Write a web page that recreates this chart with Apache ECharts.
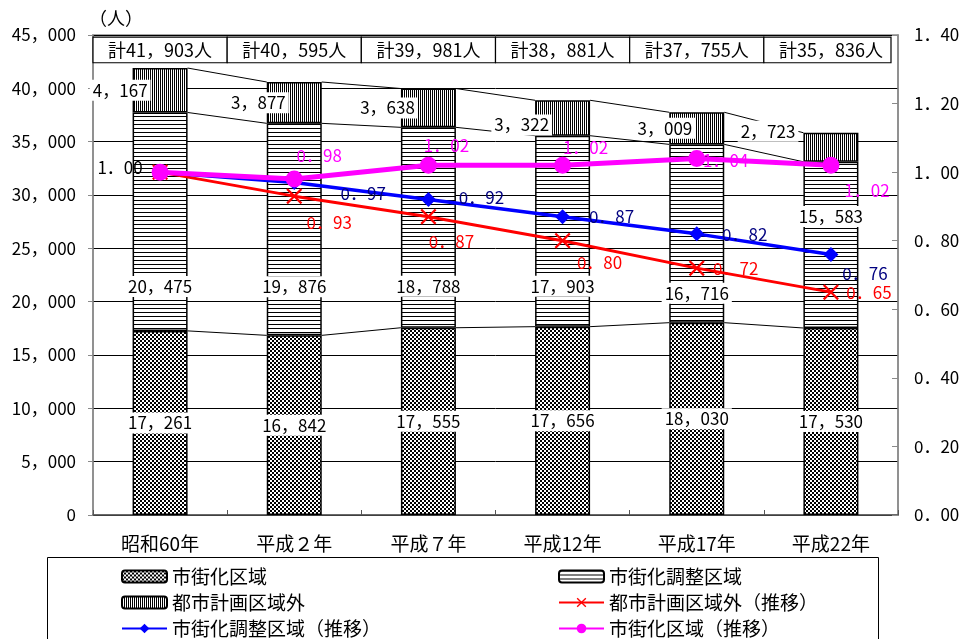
<!DOCTYPE html>
<html>
<head>
<meta charset="utf-8">
<script src="https://cdn.jsdelivr.net/npm/echarts@6/dist/echarts.min.js"></script>
<style>
  html, body { margin: 0; padding: 0; background: #fff; }
  #chart { width: 966px; height: 639px; }
</style>
</head>
<body>
<div id="chart"></div>
<script>
// Population by planning zone (stacked bars, left axis) and index vs. 昭和60年 (lines, right axis)
const categories = ['昭和60年', '平成２年', '平成７年', '平成12年', '平成17年', '平成22年'];
const urbanArea = [17261, 16842, 17555, 17656, 18030, 17530];      // 市街化区域
const adjustArea = [20475, 19876, 18788, 17903, 16716, 15583];     // 市街化調整区域
const outsideArea = [4167, 3877, 3638, 3322, 3009, 2723];          // 都市計画区域外
const outsideTrend = [1.00, 0.93, 0.87, 0.80, 0.72, 0.65];         // 都市計画区域外（推移）
const adjustTrend = [1.00, 0.97, 0.92, 0.87, 0.82, 0.76];          // 市街化調整区域（推移）
const urbanTrend = [1.00, 0.98, 1.02, 1.02, 1.04, 1.02];           // 市街化区域（推移）

const FONT = '"Noto Sans CJK JP", "Noto Sans", sans-serif';
const fmtInt = n => n.toLocaleString('en-US').replace(/,/g, '，');
const fmtDec = v => v.toFixed(2).replace('.', '．');

const totals = categories.map((_, i) => urbanArea[i] + adjustArea[i] + outsideArea[i]);

// Hatch fills for the bar segments
function makePattern(w, h, draw) {
  const c = document.createElement('canvas');
  c.width = w; c.height = h;
  const ctx = c.getContext('2d');
  ctx.fillStyle = '#fff';
  ctx.fillRect(0, 0, w, h);
  ctx.fillStyle = '#000';
  draw(ctx);
  return { image: c, repeat: 'repeat' };
}
const checkerFill = makePattern(4, 4, ctx => { ctx.fillRect(0, 0, 2, 2); ctx.fillRect(2, 2, 2, 2); });
const hStripeFill = makePattern(4, 4, ctx => { ctx.fillRect(0, 0, 4, 1); });
const vStripeFill = makePattern(2, 2, ctx => { ctx.fillRect(0, 0, 1, 2); });

// Label nudges (pixels) for the bar and trend labels
const adjustLabelDy = [0, -4, 3, 4, 15, -67];
const outsideLabelShift = [[0, 0], [4, 0], [-1, 0], [-1, 7], [8, 0], [-23, -16]];
const urbanTrendOffsets = [[-40, -5], [25, -23], [18, -20], [23, -18], [29, 2], [36, 25]];
const adjustTrendOffsets = [null, [69, 11], [53, -2], [49, 0], [48, 1], [34, 19]];
const outsideTrendOffsets = [null, [35, 26], [23, 25], [37, 22], [39, 0], [38, 0]];

const BAR_W = 55;

function trendData(values, offsets, color, firstColor) {
  return values.map((v, i) => {
    const off = offsets[i];
    return {
      value: v,
      label: off ? {
        show: true, position: 'inside', offset: off,
        color: i === 0 && firstColor ? firstColor : color
      } : { show: false }
    };
  });
}

const chart = echarts.init(document.getElementById('chart'), null, { renderer: 'canvas' });

const legendCommon = {
  orient: 'vertical', top: 562, height: 120, itemWidth: 45, itemHeight: 12, itemGap: 7,
  textStyle: { fontSize: 19, color: '#000', fontFamily: FONT }
};

const option = {
  animation: false,
  backgroundColor: '#fff',
  textStyle: { fontFamily: FONT },
  grid: {
    left: 93, right: 68, top: 35, bottom: 124,
    show: true, borderColor: '#8a8a8a', borderWidth: 1.5, backgroundColor: 'transparent'
  },
  legend: [
    Object.assign({ left: 116, data: ['市街化区域', '都市計画区域外', '市街化調整区域（推移）'] }, legendCommon),
    Object.assign({ left: 553, data: ['市街化調整区域', '都市計画区域外（推移）', '市街化区域（推移）'] }, legendCommon)
  ],
  graphic: [
    {
      type: 'rect', left: 47, top: 557, z: -1, silent: true,
      shape: { width: 831, height: 100 },
      style: { fill: '#fff', stroke: '#000', lineWidth: 1 }
    }
  ],
  xAxis: {
    type: 'category',
    data: categories,
    axisLine: { lineStyle: { color: '#555', width: 1.5 } },
    axisTick: { show: true, inside: true, length: 5, lineStyle: { color: '#555' } },
    axisLabel: { color: '#000', fontSize: 19, margin: 19, fontFamily: FONT }
  },
  yAxis: [
    {
      type: 'value', min: 0, max: 45000, interval: 5000,
      name: '（人）',
      nameLocation: 'end', nameGap: 8,
      nameTextStyle: { color: '#000', fontSize: 18, align: 'left', padding: [0, 0, 0, -4], fontFamily: FONT },
      axisLine: { show: true, lineStyle: { color: '#8a8a8a', width: 1.5 } },
      axisTick: { show: true, length: 5, lineStyle: { color: '#8a8a8a' } },
      axisLabel: { color: '#000', fontSize: 17, margin: 17, formatter: v => fmtInt(v), fontFamily: FONT },
      splitLine: { show: true, lineStyle: { color: '#000', width: 1 } }
    },
    {
      type: 'value', min: 0, max: 1.4, interval: 0.2,
      axisLine: { show: true, lineStyle: { color: '#8a8a8a', width: 1.5 } },
      axisTick: { show: true, inside: true, length: 6, lineStyle: { color: '#8a8a8a' } },
      axisLabel: { color: '#000', fontSize: 17, margin: 16, formatter: v => fmtDec(v), fontFamily: FONT },
      splitLine: { show: false }
    }
  ],
  series: [
    // Thin connectors between the segment tops of neighbouring bars
    {
      type: 'custom',
      name: 'connectors',
      z: 1,
      silent: true,
      data: categories.slice(0, -1).map((_, i) => {
        const a1 = urbanArea[i], a2 = a1 + adjustArea[i], a3 = a2 + outsideArea[i];
        const b1 = urbanArea[i + 1], b2 = b1 + adjustArea[i + 1], b3 = b2 + outsideArea[i + 1];
        return [i, a1, a2, a3, b1, b2, b3];
      }),
      renderItem: (params, api) => {
        const i = api.value(0);
        const children = [];
        for (let k = 1; k <= 3; k++) {
          const p = api.coord([i, api.value(k)]);
          const q = api.coord([i + 1, api.value(k + 3)]);
          children.push({
            type: 'line',
            shape: { x1: p[0] + BAR_W / 2, y1: p[1], x2: q[0] - BAR_W / 2, y2: q[1] },
            style: { stroke: '#000', lineWidth: 1 }
          });
        }
        return { type: 'group', children };
      }
    },
    {
      type: 'bar', name: '市街化区域', stack: 'pop', barWidth: BAR_W, z: 3,
      data: urbanArea,
      itemStyle: { color: checkerFill, borderColor: '#000', borderWidth: 1.5 },
      label: {
        show: true, position: 'inside', formatter: p => fmtInt(p.value),
        color: '#000', fontSize: 17, backgroundColor: '#fff', padding: [2, 3], fontFamily: FONT
      }
    },
    {
      type: 'bar', name: '市街化調整区域', stack: 'pop', barWidth: BAR_W, z: 3,
      data: adjustArea.map((v, i) => ({ value: v, label: { offset: [0, adjustLabelDy[i]] } })),
      itemStyle: { color: hStripeFill, borderColor: '#000', borderWidth: 1.5 },
      label: {
        show: true, position: 'insideBottom', distance: 34, formatter: p => fmtInt(p.value),
        color: '#000', fontSize: 17, backgroundColor: '#fff', padding: [2, 3], fontFamily: FONT
      }
    },
    {
      type: 'bar', name: '都市計画区域外', stack: 'pop', barWidth: BAR_W, z: 3,
      data: outsideArea.map((v, i) => ({ value: v, label: { offset: outsideLabelShift[i] } })),
      itemStyle: { color: vStripeFill, borderColor: '#000', borderWidth: 1.5 },
      label: {
        show: true, position: 'left', distance: -18, formatter: p => fmtInt(p.value),
        color: '#000', fontSize: 17, backgroundColor: '#fff', padding: [2, 3], fontFamily: FONT
      }
    },
    // Total boxes along the top of the plot
    {
      type: 'custom',
      name: 'totals',
      z: 4,
      silent: true,
      data: totals.map((t, i) => [i, t]),
      renderItem: (params, api) => {
        const i = api.value(0);
        const top = api.coord([i, 44800]);
        const bottom = api.coord([i, 42400]);
        const w = api.size([1, 0])[0];
        const left = top[0] - w / 2;
        const width = i === categories.length - 1 ? w - 7 : w;
        return {
          type: 'group',
          children: [
            {
              type: 'rect',
              shape: { x: left, y: top[1], width: width, height: bottom[1] - top[1] },
              style: { fill: '#fff', stroke: '#000', lineWidth: 1.2 }
            },
            {
              type: 'text',
              style: {
                text: '計' + fmtInt(api.value(1)) + '人',
                x: top[0], y: (top[1] + bottom[1]) / 2,
                align: 'center', verticalAlign: 'middle',
                font: '18px ' + FONT, fill: '#000'
              }
            }
          ]
        };
      }
    },
    {
      type: 'line', name: '都市計画区域外（推移）', yAxisIndex: 1, z: 6,
      data: trendData(outsideTrend, outsideTrendOffsets, '#ff0000'),
      symbol: 'path://M1,0L5,4L9,0L10,1L6,5L10,9L9,10L5,6L1,10L0,9L4,5L0,1Z',
      symbolSize: 16,
      lineStyle: { color: '#ff0000', width: 3 },
      itemStyle: { color: '#ff0000' },
      label: { fontSize: 17, fontFamily: FONT, formatter: p => fmtDec(p.value) }
    },
    {
      type: 'line', name: '市街化調整区域（推移）', yAxisIndex: 1, z: 7,
      data: trendData(adjustTrend, adjustTrendOffsets, '#000080'),
      symbol: 'diamond', symbolSize: 15,
      lineStyle: { color: '#0000ff', width: 3.5 },
      itemStyle: { color: '#0000ff' },
      label: { fontSize: 17, fontFamily: FONT, formatter: p => fmtDec(p.value) }
    },
    {
      type: 'line', name: '市街化区域（推移）', yAxisIndex: 1, z: 8,
      data: trendData(urbanTrend, urbanTrendOffsets, '#ff00ff', '#000'),
      symbol: 'circle', symbolSize: 17,
      lineStyle: { color: '#ff00ff', width: 5 },
      itemStyle: { color: '#ff00ff' },
      label: { fontSize: 17, fontFamily: FONT, formatter: p => fmtDec(p.value) }
    }
  ]
};

chart.setOption(option);
</script>
</body>
</html>
